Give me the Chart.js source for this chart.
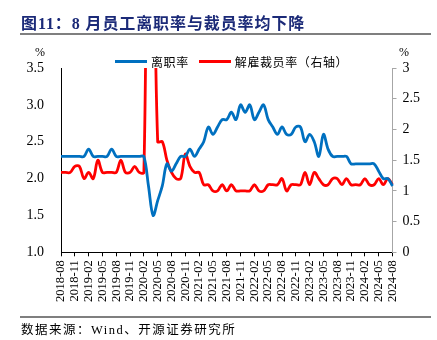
<!DOCTYPE html>
<html>
<head>
<meta charset="utf-8">
<script src="https://cdn.jsdelivr.net/npm/chart.js@4"></script>
<style>
  body { margin: 0; background: #fff; }
  #wrap { position: relative; width: 437px; height: 340px; overflow: hidden; }
  #box { position: absolute; left: 0; top: 0; width: 437px; height: 340px; }
  .txt { position: absolute; white-space: nowrap; }
  #title { left: 21px; top: 10px; font: bold 16px "Liberation Serif", "Noto Sans CJK SC", serif; color: #1b2a78; letter-spacing: 0.9px; }
  .rule { position: absolute; left: 20px; width: 411px; height: 1.5px; background: #7f7f7f; }
  .pct { top: 45px; font: 12px "Liberation Serif", serif; color: #000; }
  #legend { top: 53px; left: 115px; font: 12px "Noto Sans CJK SC", sans-serif; color: #000; display: flex; align-items: center; }
  #legend .sw { display: inline-block; width: 32px; height: 3px; margin-right: 4px; }
  #legend span.lab { letter-spacing: 0.6px; margin-right: 10px; }
  #source { left: 21px; top: 319px; font: 12.5px "Liberation Serif", "Noto Sans CJK SC", serif; color: #000; letter-spacing: 1.5px; }
</style>
</head>
<body>
<div id="wrap">
  <div id="box"><canvas id="chart"></canvas></div>
  <div id="title" class="txt">图11：8 月员工离职率与裁员率均下降</div>
  <div class="rule" style="top:33px"></div>
  <div class="txt pct" style="left:35px">%</div>
  <div class="txt pct" style="left:399px">%</div>
  <div id="legend" class="txt">
    <span class="sw" style="background:#0070c0"></span><span class="lab">离职率</span>
    <span class="sw" style="background:#ff0000"></span><span class="lab">解雇裁员率（右轴）</span>
  </div>
  <div class="rule" style="top:316px"></div>
  <div id="source" class="txt">数据来源：Wind、开源证券研究所</div>
</div>
<script>
// ===== DATA =====
const months = [
  "2018-08","2018-09","2018-10","2018-11","2018-12",
  "2019-01","2019-02","2019-03","2019-04","2019-05","2019-06","2019-07","2019-08","2019-09","2019-10","2019-11","2019-12",
  "2020-01","2020-02","2020-03","2020-04","2020-05","2020-06","2020-07","2020-08","2020-09","2020-10","2020-11","2020-12",
  "2021-01","2021-02","2021-03","2021-04","2021-05","2021-06","2021-07","2021-08","2021-09","2021-10","2021-11","2021-12",
  "2022-01","2022-02","2022-03","2022-04","2022-05","2022-06","2022-07","2022-08","2022-09","2022-10","2022-11","2022-12",
  "2023-01","2023-02","2023-03","2023-04","2023-05","2023-06","2023-07","2023-08","2023-09","2023-10","2023-11","2023-12",
  "2024-01","2024-02","2024-03","2024-04","2024-05","2024-06","2024-07","2024-08"
];

// 离职率 (left axis, %)
const quitRate = [
  2.3, 2.3, 2.3, 2.3, 2.3,
  2.3, 2.4, 2.3, 2.3, 2.3, 2.3, 2.4, 2.3, 2.3, 2.3, 2.3, 2.3,
  2.3, 2.3, 1.9, 1.5, 1.7, 1.9, 2.2, 2.1, 2.2, 2.3, 2.3, 2.4,
  2.3, 2.4, 2.5, 2.7, 2.6, 2.7, 2.8, 2.8, 2.9, 2.8, 3.0, 2.9,
  3.0, 2.8, 2.9, 3.0, 2.8, 2.7, 2.6, 2.7, 2.6, 2.6, 2.7, 2.7,
  2.5, 2.6, 2.5, 2.3, 2.6, 2.4, 2.3, 2.3, 2.3, 2.3, 2.2, 2.2,
  2.2, 2.2, 2.2, 2.2, 2.1, 2.0, 2.0, 1.9
];

// 解雇裁员率 (right axis, %), 2020-03/04 run off the top of the axis
const layoffRate = [
  1.3, 1.3, 1.3, 1.4, 1.4,
  1.2, 1.3, 1.2, 1.5, 1.3, 1.3, 1.3, 1.3, 1.5, 1.3, 1.3, 1.4,
  1.3, 1.3, 7.6, 6.0, 1.8, 1.8, 1.5, 1.3, 1.2, 1.2, 1.6, 1.4,
  1.3, 1.3, 1.1, 1.1, 1.0, 1.0, 1.1, 1.0, 1.1, 1.0, 1.0, 1.0,
  1.0, 1.1, 1.0, 1.0, 1.1, 1.1, 1.1, 1.2, 1.0, 1.1, 1.1, 1.1,
  1.3, 1.1, 1.3, 1.2, 1.1, 1.1, 1.2, 1.2, 1.1, 1.2, 1.1, 1.1,
  1.1, 1.2, 1.1, 1.1, 1.2, 1.1, 1.2, 1.1
];

const leftTicks  = [1.0, 1.5, 2.0, 2.5, 3.0, 3.5];
const rightTicks = [0, 0.5, 1, 1.5, 2, 2.5, 3];

// ===== CHART =====
const serif = "'Liberation Serif', 'Times New Roman', serif";

new Chart(document.getElementById("chart"), {
  type: "line",
  data: {
    labels: months,
    datasets: [
      {
        label: "离职率",
        data: quitRate,
        yAxisID: "y",
        borderColor: "#0070c0",
        borderWidth: 2.8,
        pointRadius: 0,
        tension: 0.35
      },
      {
        label: "解雇裁员率（右轴）",
        data: layoffRate,
        yAxisID: "y1",
        borderColor: "#ff0000",
        borderWidth: 2.8,
        pointRadius: 0,
        tension: 0.35
      }
    ]
  },
  options: {
    responsive: true,
    maintainAspectRatio: false,
    animation: false,
    layout: { padding: { top: 68, left: 20, right: 4, bottom: 27.7 } },
    plugins: { legend: { display: false }, tooltip: { enabled: false } },
    scales: {
      x: {
        afterFit: s => { s.height = 60; },
        border: { color: "#000", width: 1 },
        grid: { drawOnChartArea: false, color: "#000", tickLength: 4 },
        ticks: {
          autoSkip: false,
          minRotation: 90,
          maxRotation: 90,
          padding: 4,
          color: "#000",
          font: { family: serif, size: 12.5 },
          callback: (v, i) => (i % 3 === 0 ? months[i] : null)
        }
      },
      y: {
        position: "left",
        min: 1,
        max: 3.5,
        afterFit: s => { s.width = 41; },
        afterBuildTicks: s => { s.ticks = leftTicks.map(v => ({ value: v })); },
        border: { color: "#000", width: 1 },
        grid: { display: false },
        ticks: {
          padding: 9,
          color: "#000",
          font: { family: serif, size: 14 },
          callback: v => v.toFixed(1)
        }
      },
      y1: {
        position: "right",
        min: 0,
        max: 3,
        afterFit: s => { s.width = 40.5; },
        afterBuildTicks: s => { s.ticks = rightTicks.map(v => ({ value: v })); },
        border: { color: "#a6a6a6", width: 1 },
        grid: { drawOnChartArea: false, color: "#a6a6a6", tickLength: 4 },
        ticks: {
          padding: 6,
          color: "#000",
          font: { family: serif, size: 14 },
          callback: v => String(v)
        }
      }
    }
  }
});
</script>
</body>
</html>
